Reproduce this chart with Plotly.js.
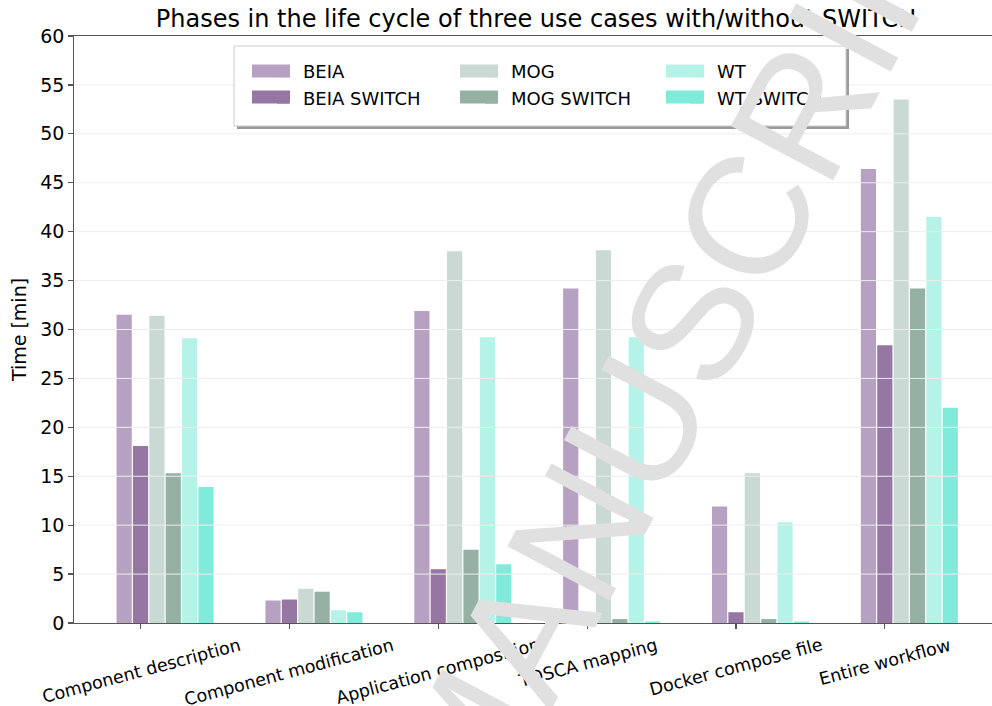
<!DOCTYPE html>
<html>
<head>
<meta charset="utf-8">
<script src="https://cdn.plot.ly/plotly-3.0.1.min.js"></script>
<style>html,body{margin:0;padding:0;background:#fff;}#chart{width:992px;height:706px;}</style>
</head>
<body>
<div id="chart"></div>
<script>
const categories = ['Component description', 'Component modification', 'Application composition', 'TOSCA mapping', 'Docker compose file', 'Entire workflow'];
const seriesNames = ['BEIA', 'BEIA SWITCH', 'MOG', 'MOG SWITCH', 'WT', 'WT SWITCH'];
const beia       = [31.5, 2.3, 31.9, 34.2, 11.9, 46.4];
const beiaSwitch = [18.1, 2.4, 5.5, 1.1, 1.1, 28.4];
const mog        = [31.4, 3.5, 38.0, 38.1, 15.3, 53.5];
const mogSwitch  = [15.3, 3.2, 7.5, 0.4, 0.4, 34.2];
const wt         = [29.1, 1.3, 29.2, 29.2, 10.3, 41.5];
const wtSwitch   = [13.9, 1.1, 6.0, 0.15, 0.15, 22.0];
const titleText = 'Phases in the life cycle of three use cases with/without SWITCH';
const yTitle = 'Time [min]';
const watermark = 'MANUSCRIPT';

const values = [beia, beiaSwitch, mog, mogSwitch, wt, wtSwitch];
const colors = ['#b7a1c2', '#9676a3', '#cad9d3', '#94b1a3', '#b5f3e9', '#80ebda'];
const legendIds = ['legend', 'legend', 'legend2', 'legend2', 'legend3', 'legend3'];
const legendTextLeft = [303, 511, 717];
const legendRowY = [71, 97];
const W = 992, H = 706;
const L = 74, R = 0, T = 36, B = 83;
const pw = W - L - R, ph = H - T - B;
const px2x = p => (p - L) / pw;
const px2y = p => (H - B - p) / ph;
const step = 0.11, barW = 0.102;
const FONT = 'DejaVu Sans';

const traces = values.map((v, i) => ({
  type: 'bar',
  name: seriesNames[i],
  x: categories,
  y: v,
  width: barW,
  offset: (i - 1) * step - barW / 2,
  marker: {color: colors[i], line: {width: 0}},
  legend: legendIds[i],
  hoverinfo: 'skip'
}));

const shapes = [];
for (let g = 5; g < 60; g += 5) {
  shapes.push({type: 'line', xref: 'paper', yref: 'y', x0: 0, x1: 1, y0: g, y1: g,
    line: {color: '#ededed', width: 1}, layer: 'above'});
}
// legend frame shadow and box
const bx0 = px2x(234), bx1 = px2x(846), by0 = px2y(126), by1 = px2y(46);
shapes.push({type: 'rect', xref: 'paper', yref: 'paper', x0: bx0 + 3 / pw, x1: bx1 + 3 / pw,
  y0: by0 - 3 / ph, y1: by1 - 3 / ph, fillcolor: '#9a9a9a', line: {width: 0}, layer: 'above'});
shapes.push({type: 'rect', xref: 'paper', yref: 'paper', x0: bx0, x1: bx1, y0: by0, y1: by1,
  fillcolor: '#ffffff', line: {color: '#cccccc', width: 1}, layer: 'above'});
// wide legend keys (matplotlib style)
colors.forEach((c, i) => {
  const tl = legendTextLeft[Math.floor(i / 2)];
  const cy = legendRowY[i % 2];
  shapes.push({type: 'rect', xref: 'paper', yref: 'paper', x0: px2x(tl - 51), x1: px2x(tl - 13),
    y0: px2y(cy + 6.5), y1: px2y(cy - 6.5), fillcolor: c, line: {width: 0}, layer: 'above'});
});

const annotations = categories.map(c => ({
  xref: 'x', yref: 'paper', x: c, y: 0, yanchor: 'top', xanchor: 'center',
  yshift: -9, text: c, textangle: -15, showarrow: false,
  font: {family: FONT, size: 17.5, color: '#000'}
}));
annotations.push({
  xref: 'paper', yref: 'paper', x: px2x(694), y: px2y(318), xanchor: 'center', yanchor: 'middle',
  text: watermark, textangle: -62, showarrow: false,
  font: {family: 'Liberation Sans', size: 168, color: '#e0e0e0'}
});

function legendAt(textLeftPx) {
  return {orientation: 'v', x: px2x(textLeftPx - 40), xanchor: 'left', y: px2y(53), yanchor: 'top',
    bgcolor: 'rgba(0,0,0,0)', borderwidth: 0, font: {family: FONT, size: 18, color: '#000'},
    traceorder: 'normal', itemclick: false, itemdoubleclick: false};
}

const layout = {
  width: W, height: H,
  margin: {l: L, r: R, t: T, b: B, pad: 0},
  paper_bgcolor: '#ffffff', plot_bgcolor: '#ffffff',
  barmode: 'overlay',
  font: {family: FONT, size: 18, color: '#000'},
  title: {text: titleText, xref: 'container', x: 536 / W, xanchor: 'center', yref: 'container', y: 1 - 19 / H, yanchor: 'middle',
    font: {family: FONT, size: 24, color: '#000'}},
  xaxis: {type: 'category', range: [-0.447, 5.72], showgrid: false, zeroline: false,
    showline: true, linecolor: '#555555', linewidth: 1.3, mirror: true,
    ticks: 'outside', ticklen: 4.5, tickcolor: '#555555', tickwidth: 1.2,
    showticklabels: false, fixedrange: true, automargin: false},
  yaxis: {range: [0, 60], dtick: 5, tick0: 0, showgrid: false, zeroline: false,
    showline: true, linecolor: '#555555', linewidth: 1.3, mirror: false,
    ticks: 'outside', ticklen: 4.5, tickcolor: '#555555', tickwidth: 1.2,
    tickfont: {family: FONT, size: 19, color: '#000'},
    title: {text: yTitle, font: {family: FONT, size: 19, color: '#000'}, standoff: 8},
    automargin: false, fixedrange: true},
  legend: legendAt(legendTextLeft[0]),
  legend2: legendAt(legendTextLeft[1]),
  legend3: legendAt(legendTextLeft[2]),
  showlegend: true,
  shapes: shapes,
  annotations: annotations
};

Plotly.newPlot('chart', traces, layout, {displayModeBar: false, staticPlot: true});
</script>
</body>
</html>
